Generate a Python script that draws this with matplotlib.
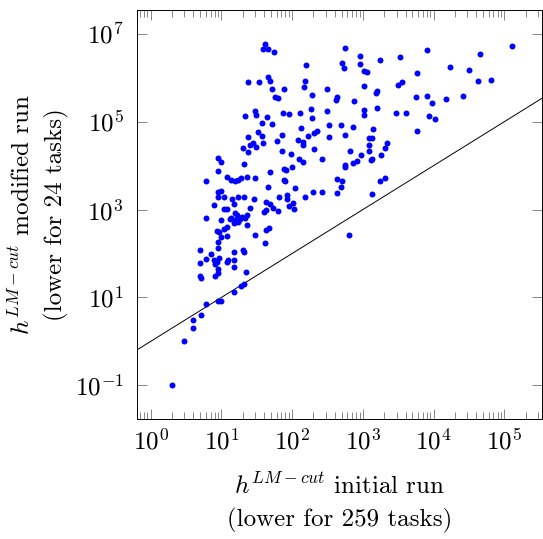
import matplotlib
matplotlib.use("Agg")
import matplotlib.pyplot as plt
from matplotlib.ticker import LogLocator, NullLocator

plt.rcParams['font.family'] = 'serif'
plt.rcParams['font.serif'] = ['cmr10']
plt.rcParams['mathtext.fontset'] = 'cm'
plt.rcParams['axes.formatter.use_mathtext'] = True
plt.rcParams['axes.unicode_minus'] = False

# initial run (x) vs modified run (y), one point per task
x_init = [
    41.8, 38.6, 45.0, 56.0, 23.7, 33.6, 45.4, 49.1, 51.7, 57.0, 62.2, 21.8, 29.8, 31.2, 43.6,
    37.9, 52.4, 23.7, 32.8, 37.9, 27.9, 25.1, 30.5, 39.1, 20.0, 23.7, 60.3, 8.95, 10.0, 20.8,
    553, 922, 1730, 3380, 156, 514, 543, 922, 1026, 1157, 153, 146, 76.4, 313, 1040,
    1600, 1535, 3135, 3525, 192, 427, 419, 741, 74.8, 89, 131, 182, 188, 309, 1050,
    1040, 1585, 2940, 4015, 134, 330, 486, 728, 1393, 70.8, 165, 205, 223, 326, 553,
    1222, 1362, 2218, 2030, 1222, 1236, 120, 143, 141, 72.5, 95.9, 205, 666, 931, 1349,
    1318, 1795, 124, 141, 266, 566, 718, 836,
    8130, 45000, 128000, 5740, 17000, 31500, 42200, 65600, 5560, 8050, 9460, 14700, 26100, 8590, 10400,
    5870,
    9.07, 6.0, 12.0, 13.8, 15.4, 17.1, 18.7, 23.0, 29.8, 49.1, 45.0, 8.95, 10.0, 9.07, 10.8,
    17.0, 20.8, 28.8, 7.96, 14.1, 14.8, 11.0, 12.0, 25.6, 43.1, 48.0, 54.1, 65.3, 63.7, 39.5,
    42.6, 5.95, 9.87, 13.8, 13.2, 15.4, 16.6, 18.1, 17.4, 19.8, 23.0, 21.5, 22.7, 14.8, 15.4,
    11.8, 10.7, 8.78, 9.25, 12.0, 10.0, 8.95, 29.8, 43.1, 46.9, 41.8, 4.99, 7.0, 6.0, 4.99,
    8.95, 7.96, 8.05, 8.78, 9.16, 11.8, 12.3, 15.1, 15.1, 14.9, 20.0, 21.1, 9.07, 8.95, 8.05,
    4.99, 5.06, 22.0, 20.6, 19.1, 15.1, 8.95, 10.0, 6.0, 5.06, 3.98, 3.98, 3.0, 2.0,
    77.4, 82.6, 98.1, 553, 76.4, 80, 111, 423, 514, 486, 433, 199, 268, 151, 1750,
    2056, 1340, 83.4, 85.3, 102, 91, 107, 639,
]
y_mod = [
    5.74e6, 4.49e6, 4.49e6, 3.84e6, 7.98e5, 8.11e5, 1.05e6, 8.41e5, 5.62e5, 3.64e5, 3.40e5, 1.35e5, 1.72e5, 1.40e5, 1.30e5,
    9.5e4, 8.9e4, 4.56e4, 5.83e4, 4.66e4, 3.34e4, 2.95e4, 2.66e4, 3.34e4, 2.52e4, 2.02e4, 3.59e4, 1.50e4, 1.19e4, 1.11e4,
    4.73e6, 3.16e6, 2.48e6, 3.0e6, 1.95e6, 2.12e6, 1.64e6, 2.08e6, 1.40e6, 1.33e6, 8.55e5, 6.05e5, 5.53e5, 5.62e5, 6.58e5,
    4.99e5, 4.56e5, 6.82e5, 7.98e5, 3.98e5, 3.59e5, 3.11e5, 3.0e5, 1.60e5, 1.47e5, 1.58e5, 1.97e5, 1.21e5, 1.78e5, 1.87e5,
    1.42e5, 2.02e5, 1.60e5, 1.60e5, 7.2e4, 8.55e4, 8.3e4, 7.47e4, 6.93e4, 4.91e4, 4.81e4, 5.53e4, 6.24e4, 4.42e4, 4.91e4,
    4.2e4, 4.33e4, 3.34e4, 2.48e4, 2.91e4, 2.16e4, 3.78e4, 3.51e4, 2.95e4, 2.12e4, 1.85e4, 2.36e4, 2.19e4, 1.72e4, 1.42e4,
    1.33e4, 1.73e4, 1.40e4, 1.21e4, 1.44e4, 1.04e4, 1.14e4, 1.30e4,
    4.33e6, 3.46e6, 5.25e6, 1.28e6, 1.72e6, 1.52e6, 8.28e5, 8.87e5, 3.64e5, 3.84e5, 2.62e5, 3.23e5, 3.78e5, 1.35e5, 1.17e5,
    6.15e4,
    7460, 4560, 5450, 4730, 4560, 4730, 5330, 5530, 5250, 7310, 3330, 2480, 2700, 1910, 1950,
    1970, 1970, 1690, 1260, 1690, 1370, 1020, 1020, 1080, 1470, 1330, 1110, 1970, 949, 887,
    969, 638, 574, 638, 605, 828, 731, 605, 518, 693, 731, 658, 456, 491, 583,
    398, 364, 328, 316, 256, 231, 178, 270, 340, 378, 171, 117, 96.8, 74.6, 60.5,
    130, 72, 56.2, 63.8, 78.5, 62.4, 72, 108, 69.3, 48.5, 119, 108, 43.3, 36.4, 30.6,
    30, 27.6, 37.8, 20.2, 17.8, 13.5, 8.28, 8.28, 7.08, 4.05, 3.06, 2.02, 1.02, 0.104,
    8280, 7980, 9200, 9100, 4730, 4370, 3110, 5070, 4560, 3280, 2400, 2480, 2480, 1950, 4490,
    5330, 2210, 2160, 1720, 1420, 1190, 1050, 262,
]

x_lim = (0.65, 3.4e5)
y_lim = (0.0171, 3.46e7)
y_ticks = [1e-1, 1e1, 1e3, 1e5, 1e7]

fig = plt.figure(figsize=(5.43, 5.39), dpi=100)
ax = fig.add_axes([0.2532, 0.2226, 0.7450, 0.7588])

ax.plot(x_init, y_mod, 'o', color='#0000ff', ms=4.3, mew=0, zorder=3)
ax.axline((1, 1), (10, 10), color='black', lw=0.7, zorder=2)

ax.set_xscale('log')
ax.set_yscale('log')
ax.set_xlim(*x_lim)
ax.set_ylim(*y_lim)

ax.xaxis.set_major_locator(LogLocator(base=10, numticks=20))
ax.xaxis.set_minor_locator(LogLocator(base=10, subs=range(2, 10), numticks=20))
ax.set_yticks(y_ticks)
ax.yaxis.set_minor_locator(NullLocator())

for s in ax.spines.values():
    s.set_linewidth(0.7)

ax.tick_params(which='both', direction='in', top=True, right=True,
               color='0.45', width=0.6, labelsize=18)
ax.tick_params(which='major', length=7.5)
ax.tick_params(which='minor', length=4.7)
ax.tick_params(axis='x', pad=7)
ax.tick_params(axis='y', pad=10)

ax.set_xlabel("$h^{LM-cut}$ initial run\n(lower for 259 tasks)", fontsize=18,
              linespacing=1.5, labelpad=13)
ax.set_ylabel("$h^{LM-cut}$ modified run\n(lower for 24 tasks)", fontsize=18,
              linespacing=1.5)

fig.savefig("out.png", dpi=100)
